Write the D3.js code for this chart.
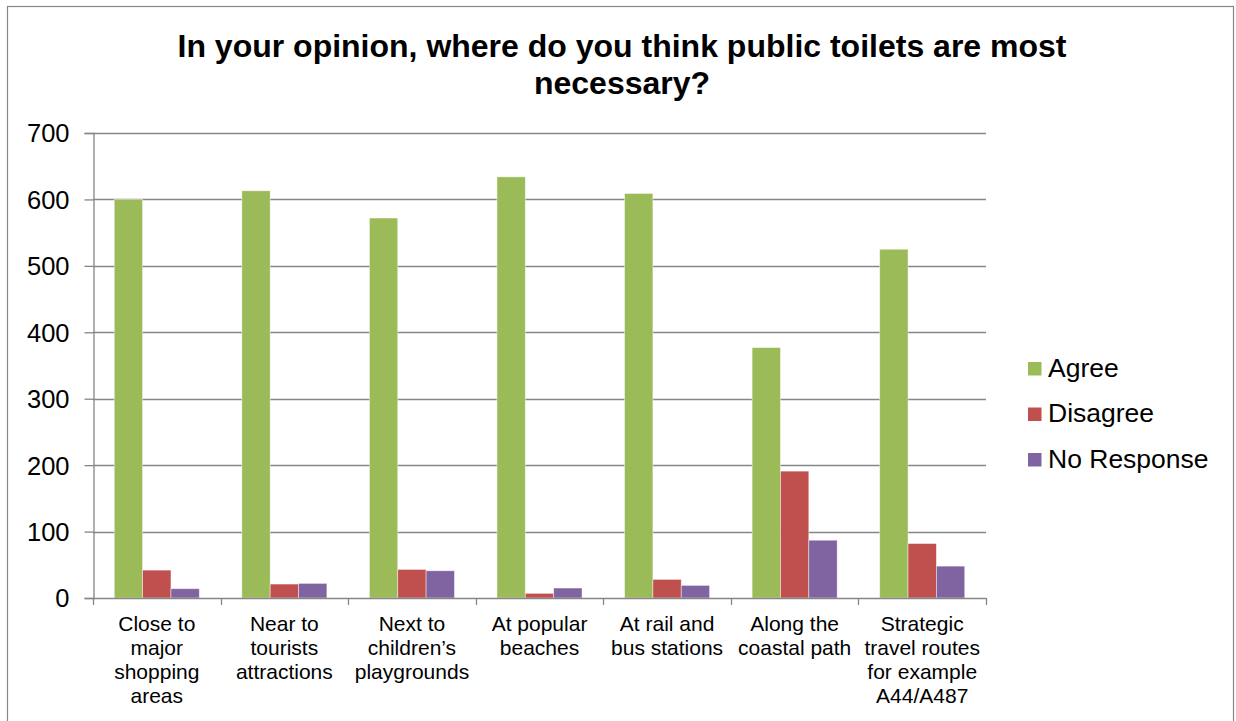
<!DOCTYPE html>
<html>
<head>
<meta charset="utf-8">
<script src="https://cdn.jsdelivr.net/npm/d3@7"></script>
<style>
  html, body { margin: 0; padding: 0; background: #fff; }
  text { font-family: "Liberation Sans", Arial, sans-serif; fill: #000; }
</style>
</head>
<body>
<svg id="chart" width="1236" height="721"></svg>
<script>
const titleLines = ["In your opinion, where do you think public toilets are most", "necessary?"];
const categories = [
  ["Close to", "major", "shopping", "areas"],
  ["Near to", "tourists", "attractions"],
  ["Next to", "children\u2019s", "playgrounds"],
  ["At popular", "beaches"],
  ["At rail and", "bus stations"],
  ["Along the", "coastal path"],
  ["Strategic", "travel routes", "for example", "A44/A487"]
];
const seriesNames = ["Agree", "Disagree", "No Response"];
const agree      = [600, 613, 572, 634, 609, 377, 525];
const disagree   = [42, 21, 43, 7, 28, 191, 82];
const noResponse = [14, 22, 41, 15, 19, 87, 48];
const yTicks = [0, 100, 200, 300, 400, 500, 600, 700];
const colors = ["#9BBB59", "#C0504D", "#8064A2"];

(function () {
const seriesValues = [agree, disagree, noResponse];
const svg = d3.select("#chart");

// outer border
svg.append("rect").attr("x", 7.5).attr("y", 6.5).attr("width", 1226).attr("height", 740)
  .attr("fill", "none").attr("stroke", "#868686").attr("stroke-width", 1.2);

// title
svg.append("g").selectAll("text").data(titleLines).join("text")
  .attr("x", 622).attr("y", (d, i) => 56.5 + i * 37)
  .attr("text-anchor", "middle").attr("font-size", 32).attr("font-weight", "bold")
  .text(d => d);

const pLeft = 93, pRight = 986, pTop = 133, pBottom = 598;
const catKeys = categories.map((c, i) => i);
const x0 = d3.scaleBand().domain(catKeys).range([pLeft, pRight]).padding(0);
const gw = x0.bandwidth();
const bw = gw / 4.5;
const x1 = d3.scaleBand().domain(seriesNames).range([0.75 * bw, gw - 0.75 * bw]).padding(0);
const y = d3.scaleLinear().domain([0, 700]).range([pBottom, pTop]);

// gridlines
svg.append("g").selectAll("line").data(yTicks.filter(t => t > 0)).join("line")
  .attr("x1", pLeft).attr("x2", pRight)
  .attr("y1", d => Math.round(y(d)) + 0.5).attr("y2", d => Math.round(y(d)) + 0.5)
  .attr("stroke", "#868686").attr("stroke-width", 1.3);

// bars
const groups = svg.append("g").selectAll("g").data(catKeys).join("g")
  .attr("transform", d => `translate(${x0(d)},0)`);
groups.selectAll("rect").data(ci => seriesNames.map((s, si) => ({ s, si, v: seriesValues[si][ci] })))
  .join("rect")
  .attr("x", d => x1(d.s)).attr("width", x1.bandwidth())
  .attr("y", d => y(d.v)).attr("height", d => y(0) - y(d.v))
  .attr("fill", d => colors[d.si])
  .attr("stroke", "#fff").attr("stroke-opacity", 0.55).attr("stroke-width", 0.8);

// y axis
const yAxis = d3.axisLeft(y).tickValues(yTicks).tickSize(9).tickPadding(16).tickFormat(d3.format("d"));
const gy = svg.append("g").attr("transform", `translate(${pLeft + 0.5},0)`).call(yAxis);
gy.select(".domain").attr("stroke", "#868686").attr("stroke-width", 1.3);
gy.selectAll(".tick line").attr("stroke", "#868686").attr("stroke-width", 1.3);
gy.selectAll(".tick text").attr("font-size", 25.5).attr("font-family", "Liberation Sans, Arial, sans-serif")
  .attr("fill", "#000").attr("dy", "0.35em").attr("x", -24);

// x axis: line and boundary ticks
const boundaries = catKeys.map(k => x0(k)).concat([pRight]);
svg.append("line").attr("x1", pLeft).attr("x2", pRight).attr("y1", pBottom + 0.5).attr("y2", pBottom + 0.5)
  .attr("stroke", "#868686").attr("stroke-width", 1.3);
svg.append("g").selectAll("line").data(boundaries).join("line")
  .attr("x1", d => Math.round(d) + 0.5).attr("x2", d => Math.round(d) + 0.5)
  .attr("y1", pBottom).attr("y2", pBottom + 7)
  .attr("stroke", "#868686").attr("stroke-width", 1.3);

// category labels
const cl = svg.append("g").selectAll("text").data(catKeys).join("text")
  .attr("text-anchor", "middle").attr("font-size", 21)
  .attr("transform", d => `translate(${x0(d) + gw / 2},0)`);
cl.selectAll("tspan").data(ci => categories[ci]).join("tspan")
  .attr("x", 0).attr("y", (d, i) => 630.5 + i * 24.3).text(d => d);

// legend
const lg = svg.append("g").selectAll("g").data(seriesNames).join("g")
  .attr("transform", (d, i) => `translate(1028,${362 + i * 45.5})`);
lg.append("rect").attr("width", 13.5).attr("height", 13.5).attr("fill", (d, i) => colors[i]);
lg.append("text").attr("x", 20).attr("y", 14.5).attr("font-size", 26.5).text(d => d);
})();
</script>
</body>
</html>
